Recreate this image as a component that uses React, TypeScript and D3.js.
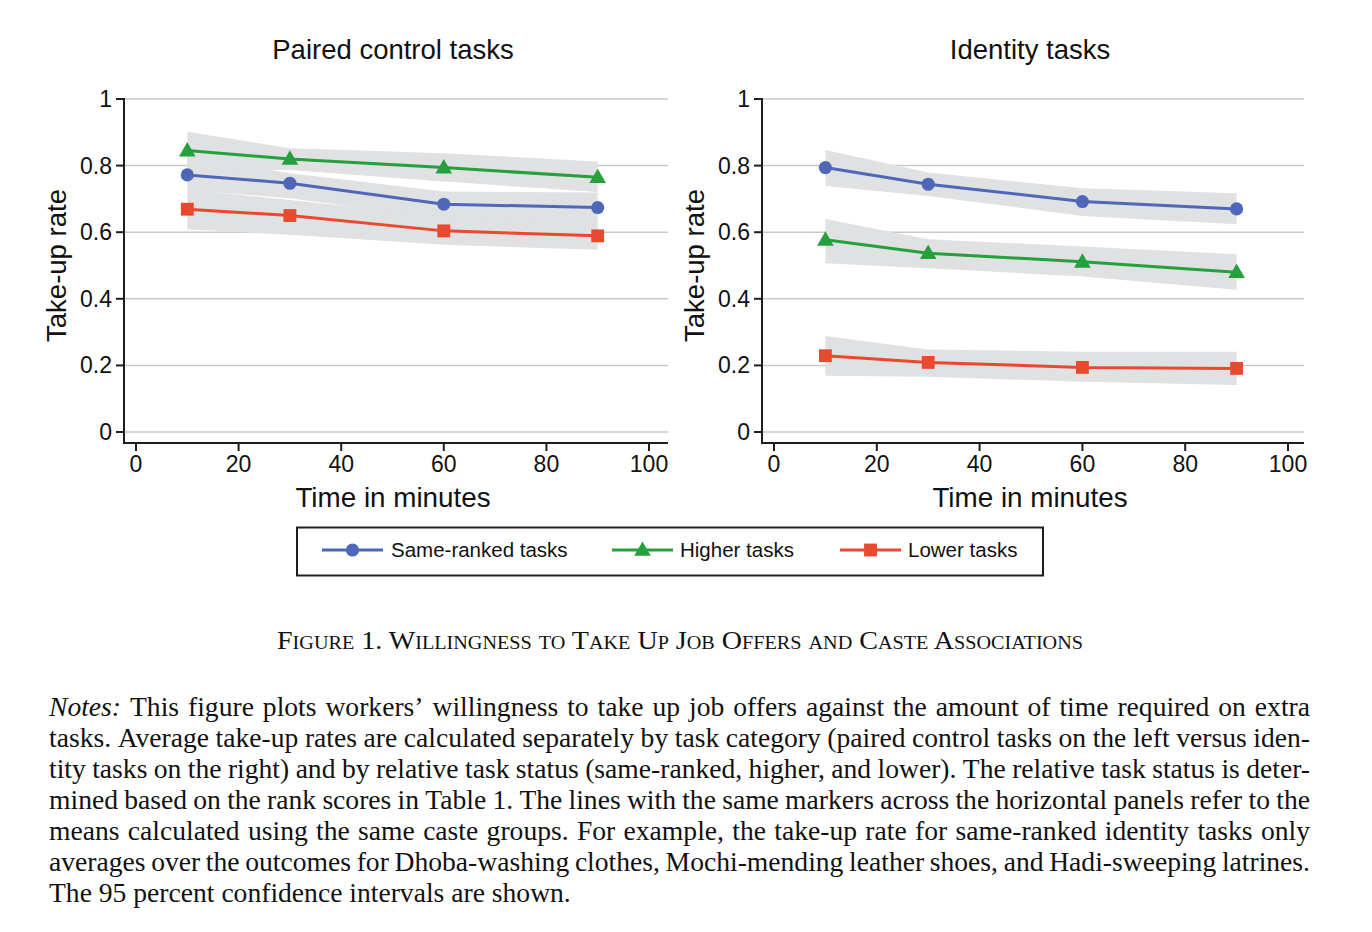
import React, { useMemo } from 'react';
import * as d3 from 'd3';

// ---------- DATA ----------
const times = [10, 30, 60, 90];
const xTicks = [0, 20, 40, 60, 80, 100];
const yTicks = [0, 0.2, 0.4, 0.6, 0.8, 1];
const yTickLabels = ['0', '0.2', '0.4', '0.6', '0.8', '1'];
const seriesNames = ['Same-ranked tasks', 'Higher tasks', 'Lower tasks'];
const panelTitles = ['Paired control tasks', 'Identity tasks'];

// Paired control tasks
const pairedSame = [0.772, 0.747, 0.684, 0.674];
const pairedSameLo = [0.726, 0.702, 0.640, 0.629];
const pairedSameHi = [0.830, 0.777, 0.722, 0.719];
const pairedHigher = [0.845, 0.820, 0.794, 0.765];
const pairedHigherLo = [0.788, 0.787, 0.752, 0.721];
const pairedHigherHi = [0.902, 0.852, 0.837, 0.812];
const pairedLower = [0.669, 0.650, 0.604, 0.589];
const pairedLowerLo = [0.609, 0.592, 0.562, 0.547];
const pairedLowerHi = [0.728, 0.697, 0.648, 0.634];

// Identity tasks
const identSame = [0.794, 0.744, 0.692, 0.670];
const identSameLo = [0.739, 0.709, 0.649, 0.624];
const identSameHi = [0.847, 0.779, 0.732, 0.717];
const identHigher = [0.577, 0.537, 0.511, 0.480];
const identHigherLo = [0.507, 0.492, 0.467, 0.427];
const identHigherHi = [0.640, 0.579, 0.557, 0.534];
const identLower = [0.229, 0.209, 0.194, 0.191];
const identLowerLo = [0.169, 0.166, 0.151, 0.141];
const identLowerHi = [0.288, 0.248, 0.241, 0.241];

const captionText = 'Figure 1. Willingness to Take Up Job Offers and Caste Associations';
const notesLines = [
  'Notes: This figure plots workers’ willingness to take up job offers against the amount of time required on extra',
  'tasks. Average take-up rates are calculated separately by task category (paired control tasks on the left versus iden-',
  'tity tasks on the right) and by relative task status (same-ranked, higher, and lower). The relative task status is deter-',
  'mined based on the rank scores in Table 1. The lines with the same markers across the horizontal panels refer to the',
  'means calculated using the same caste groups. For example, the take-up rate for same-ranked identity tasks only',
  'averages over the outcomes for Dhoba-washing clothes, Mochi-mending leather shoes, and Hadi-sweeping latrines.',
  'The 95 percent confidence intervals are shown.',
];

// ---------- STYLE ----------
const COLORS = ['#4f67b8', '#25a03c', '#e8492f'];
const BAND = '#e0e1e3';
const GRID = '#c9c9c9';
const AXIS = '#1e1e1e';
const SANS = "'Liberation Sans', Arial, Helvetica, sans-serif";
const SERIF = "'Liberation Serif', 'Times New Roman', serif";
const SYMBOLS = [d3.symbolCircle, d3.symbolTriangle, d3.symbolSquare];
const SYMSIZE = [135, 120, 165];

type Series = { mean: number[]; lo: number[]; hi: number[] };

const panels: { title: string; axisX: number; endX: number; x0: number; x100: number; series: Series[] }[] = [
  {
    title: panelTitles[0], axisX: 124, endX: 668, x0: 136, x100: 649,
    series: [
      { mean: pairedSame, lo: pairedSameLo, hi: pairedSameHi },
      { mean: pairedHigher, lo: pairedHigherLo, hi: pairedHigherHi },
      { mean: pairedLower, lo: pairedLowerLo, hi: pairedLowerHi },
    ],
  },
  {
    title: panelTitles[1], axisX: 762, endX: 1304, x0: 774, x100: 1288,
    series: [
      { mean: identSame, lo: identSameLo, hi: identSameHi },
      { mean: identHigher, lo: identHigherLo, hi: identHigherHi },
      { mean: identLower, lo: identLowerLo, hi: identLowerHi },
    ],
  },
];

const yScale = d3.scaleLinear().domain([0, 1]).range([432, 99]);
const AXIS_Y = 443;

function Panel({ p }: { p: typeof panels[number] }) {
  const x = d3.scaleLinear().domain([0, 100]).range([p.x0, p.x100]);
  const line = d3.line<number>().x((_, i) => x(times[i])).y((d) => yScale(d));
  const cx = (p.axisX + p.endX) / 2;
  return (
    <g>
      <text x={cx - 3} y={59} textAnchor="middle" fontFamily={SANS} fontSize={27.5} fill="#111">
        {p.title}
      </text>
      {/* grid */}
      {yTicks.map((t) => (
        <line key={'g' + t} x1={p.axisX} x2={p.endX} y1={yScale(t)} y2={yScale(t)} stroke={GRID} strokeWidth={1.5} />
      ))}
      {/* bands */}
      {p.series.map((s, k) => {
        const a = d3
          .area<number>()
          .x((_, i) => x(times[i]))
          .y0((_, i) => yScale(s.lo[i]))
          .y1((_, i) => yScale(s.hi[i]));
        return <path key={'b' + k} d={a(s.mean) || ''} fill={BAND} />;
      })}
      {/* lines */}
      {p.series.map((s, k) => (
        <path key={'l' + k} d={line(s.mean) || ''} fill="none" stroke={COLORS[k]} strokeWidth={3} />
      ))}
      {/* markers */}
      {p.series.map((s, k) =>
        s.mean.map((v, i) => (
          <path
            key={'m' + k + '-' + i}
            d={d3.symbol(SYMBOLS[k], SYMSIZE[k])() || ''}
            transform={`translate(${x(times[i])},${yScale(v) + (k === 1 ? 1 : 0)})`}
            fill={COLORS[k]}
          />
        ))
      )}
      {/* y axis */}
      <line x1={p.axisX} x2={p.axisX} y1={yScale(1) - 1} y2={AXIS_Y + 1} stroke={AXIS} strokeWidth={2} />
      {yTicks.map((t, i) => (
        <g key={'yt' + t}>
          <line x1={p.axisX - 8} x2={p.axisX} y1={yScale(t)} y2={yScale(t)} stroke={AXIS} strokeWidth={2} />
          <text x={p.axisX - 12} y={yScale(t) + 8} textAnchor="end" fontFamily={SANS} fontSize={23} fill="#111">
            {yTickLabels[i]}
          </text>
        </g>
      ))}
      <text
        transform={`translate(${p.axisX - 58},${(yScale(0) + yScale(1)) / 2}) rotate(-90)`}
        textAnchor="middle"
        fontFamily={SANS}
        fontSize={27.5}
        fill="#111"
      >
        Take-up rate
      </text>
      {/* x axis */}
      <line x1={p.axisX - 1} x2={p.endX} y1={AXIS_Y} y2={AXIS_Y} stroke={AXIS} strokeWidth={2} />
      {xTicks.map((t) => (
        <g key={'xt' + t}>
          <line x1={x(t)} x2={x(t)} y1={AXIS_Y} y2={AXIS_Y + 8} stroke={AXIS} strokeWidth={2} />
          <text x={x(t)} y={472} textAnchor="middle" fontFamily={SANS} fontSize={23} fill="#111">
            {t}
          </text>
        </g>
      ))}
      <text x={cx - 3} y={507} textAnchor="middle" fontFamily={SANS} fontSize={27.8} fill="#111">
        Time in minutes
      </text>
    </g>
  );
}

function Legend() {
  const items = [
    { x1: 322, tx: 391 },
    { x1: 612, tx: 680 },
    { x1: 840, tx: 908 },
  ];
  return (
    <g>
      <rect x={297} y={527.5} width={746} height={48} fill="#fff" stroke={AXIS} strokeWidth={2} />
      {items.map((it, k) => (
        <g key={k}>
          <line x1={it.x1} x2={it.x1 + 61} y1={550} y2={550} stroke={COLORS[k]} strokeWidth={3} />
          <path
            d={d3.symbol(SYMBOLS[k], SYMSIZE[k])() || ''}
            transform={`translate(${it.x1 + 30.5},${550 + (k === 1 ? 1 : 0)})`}
            fill={COLORS[k]}
          />
          <text x={it.tx} y={557} fontFamily={SANS} fontSize={20.5} fill="#111">
            {seriesNames[k]}
          </text>
        </g>
      ))}
    </g>
  );
}

function Notes() {
  const FS = 27.6;
  const LEFT = 49;
  const WIDTH = 1261;
  const layout = useMemo(() => {
    const canvas = document.createElement('canvas');
    const ctx = canvas.getContext('2d')!;
    const measure = (w: string, italic: boolean) => {
      ctx.font = `${italic ? 'italic ' : ''}${FS}px 'Liberation Serif'`;
      return ctx.measureText(w).width;
    };
    return notesLines.map((ln, li) => {
      const words = ln.split(' ');
      const ws = words.map((w, wi) => measure(w, li === 0 && wi === 0));
      const spaceW = measure(' ', false);
      const total = ws.reduce((a, b) => a + b, 0);
      const last = li === notesLines.length - 1;
      const gap = last ? spaceW : (WIDTH - total) / (words.length - 1);
      let cur = LEFT;
      return words.map((w, wi) => {
        const pos = cur;
        cur += ws[wi] + gap;
        return { w, x: pos, italic: li === 0 && wi === 0 };
      });
    });
  }, []);
  return (
    <g fontFamily={SERIF} fontSize={FS} fill="#111">
      {layout.map((words, li) => (
        <text key={li} y={716 + li * 31}>
          {words.map((wd, wi) => (
            <tspan key={wi} x={wd.x} fontStyle={wd.italic ? 'italic' : 'normal'}>
              {wd.w}
            </tspan>
          ))}
        </text>
      ))}
    </g>
  );
}

export default function App() {
  return (
    <svg
      width={1372}
      height={932}
      viewBox="0 0 1372 932"
      style={{ position: 'absolute', left: 0, top: 0, background: '#fff' }}
    >
      <rect x={0} y={0} width={1372} height={932} fill="#fff" />
      {panels.map((p, i) => (
        <Panel key={i} p={p} />
      ))}
      <Legend />
      <text
        x={680}
        y={649}
        textAnchor="middle"
        fontFamily={SERIF}
        fontSize={25}
        fill="#111"
        style={{ fontVariant: 'small-caps' }}
        textLength={806}
        lengthAdjust="spacingAndGlyphs"
      >
        {captionText}
      </text>
      <Notes />
    </svg>
  );
}
